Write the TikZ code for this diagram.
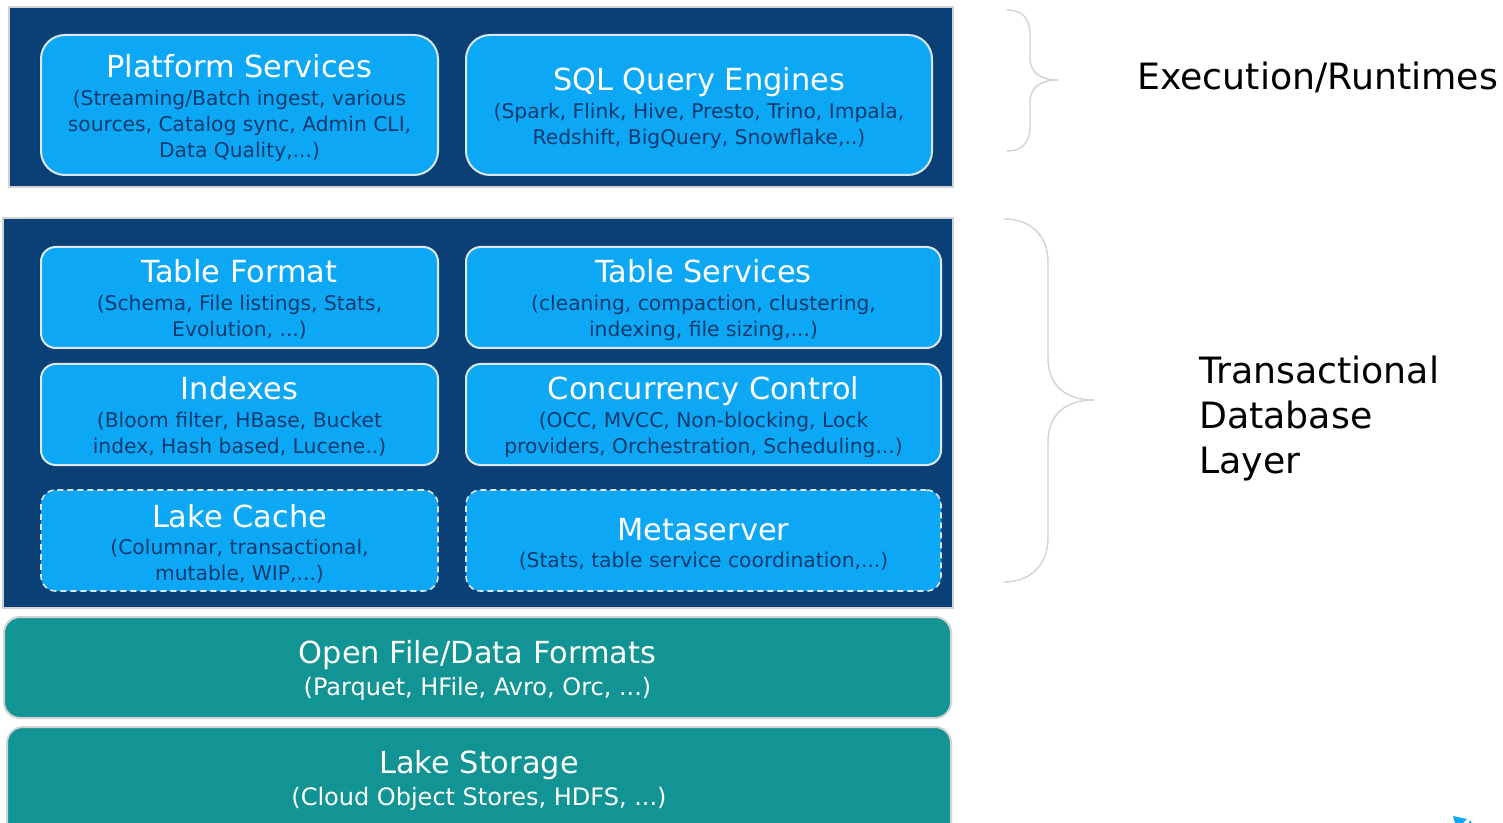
\documentclass[tikz,border=0pt]{standalone}
\usepackage{fontspec}
\setmainfont{DejaVu Sans}
\usetikzlibrary{fit}

\definecolor{navy}{HTML}{0B4077}
\definecolor{skyblue}{HTML}{0DA8F5}
\definecolor{tealbox}{HTML}{139494}
\definecolor{edgegray}{HTML}{D2D2D2}
\definecolor{compedge}{HTML}{DCE6EE}
\definecolor{subtxt}{HTML}{0B3A6E}
\definecolor{bracegray}{HTML}{D4D4D4}

\tikzset{
  panel/.style={draw=edgegray, line width=1.5pt, fill=navy, inner sep=0pt},
  comp/.style={draw=compedge, line width=1.5pt, fill=skyblue, rounded corners=#1, inner sep=0pt},
  compdash/.style={draw=compedge, line width=1.2pt, dash pattern=on 4.5pt off 3pt,
    fill=skyblue, rounded corners=11pt, inner sep=0pt},
  storage/.style={draw=edgegray, line width=1.5pt, fill=tealbox, rounded corners=12pt, inner sep=0pt},
  ttl/.style={anchor=base, text=white, inner sep=0pt, font=\fontsize{22.8}{27}\selectfont},
  subln/.style={anchor=base, text=subtxt, inner sep=0pt, font=\fontsize{15.2}{18}\selectfont},
  stsub/.style={anchor=base, text=white, inner sep=0pt, font=\fontsize{18}{21}\selectfont},
  side/.style={anchor=base west, text=black, inner sep=0pt, font=\fontsize{27.2}{33}\selectfont},
  brace/.style={draw=bracegray, line width=1.1pt, line cap=round}
}

\begin{document}
\begin{tikzpicture}[x=0.75pt, y=-0.75pt]
  \useasboundingbox (0,0) rectangle (1503,823);
  \clip (0,0) rectangle (1503,823);

  % execution / runtime layer
  \node[panel, fit={(9,7) (953,187)}] (exec) {};
  \node[comp=18pt, fit={(41,35) (438,175)}] (ps) {};
  \node[comp=18pt, fit={(466,35) (932,175)}] (sql) {};

  \node[ttl] (ps-t) at (239.5,78) {Platform Services};
  \node[subln] (ps-1) at (239.5,106) {(Streaming/Batch ingest, various};
  \node[subln] (ps-2) at (239.5,132) {sources, Catalog sync, Admin CLI,};
  \node[subln] (ps-3) at (239.5,158) {Data Quality,...)};

  \node[ttl] (sql-t) at (699,91) {SQL Query Engines};
  \node[subln] (sql-1) at (699,119) {(Spark, Flink, Hive, Presto, Trino, Impala,};
  \node[subln] (sql-2) at (699,145) {Redshift, BigQuery, Snowflake,..)};

  % transactional database layer
  \node[panel, fit={(3,218) (953,608)}] (txn) {};
  \node[comp=11pt, fit={(41,247) (438,348)}] (tf) {};
  \node[comp=11pt, fit={(466,247) (941,348)}] (ts) {};
  \node[comp=11pt, fit={(41,364) (438,465)}] (ix) {};
  \node[comp=11pt, fit={(466,364) (941,465)}] (cc) {};
  \node[compdash, fit={(41,490) (438,591)}] (lc) {};
  \node[compdash, fit={(466,490) (941,591)}] (ms) {};

  \node[ttl] (tf-t) at (239.5,283) {Table Format};
  \node[subln] (tf-1) at (239.5,311) {(Schema, File listings, Stats,};
  \node[subln] (tf-2) at (239.5,337) {Evolution, ...)};

  \node[ttl] (ts-t) at (703.5,283) {Table Services};
  \node[subln] (ts-1) at (703.5,311) {(cleaning, compaction, clustering,};
  \node[subln] (ts-2) at (703.5,337) {indexing, file sizing,...)};

  \node[ttl] (ix-t) at (239.5,400) {Indexes};
  \node[subln] (ix-1) at (239.5,428) {(Bloom filter, HBase, Bucket};
  \node[subln] (ix-2) at (239.5,454) {index, Hash based, Lucene..)};

  \node[ttl] (cc-t) at (703.5,400) {Concurrency Control};
  \node[subln] (cc-1) at (703.5,428) {(OCC, MVCC, Non-blocking, Lock};
  \node[subln] (cc-2) at (703.5,454) {providers, Orchestration, Scheduling...)};

  \node[ttl] (lc-t) at (239.5,527) {Lake Cache};
  \node[subln] (lc-1) at (239.5,554) {(Columnar, transactional,};
  \node[subln] (lc-2) at (239.5,580) {mutable, WIP,...)};

  \node[ttl] (ms-t) at (703.5,540) {Metaserver};
  \node[subln] (ms-1) at (703.5,567) {(Stats, table service coordination,...)};

  % file formats and storage
  \node[storage, fit={(4,617) (951,718)}] (ff) {};
  \node[storage, fit={(7,727) (951,845)}] (ls) {};

  \node[ttl] (ff-t) at (477.5,663) {Open File/Data Formats};
  \node[stsub] (ff-1) at (477.5,695) {(Parquet, HFile, Avro, Orc, ...)};

  \node[ttl] (ls-t) at (479,773) {Lake Storage};
  \node[stsub] (ls-1) at (479,805) {(Cloud Object Stores, HDFS, ...)};

  % braces
  \draw[brace] (1007,10) .. controls (1022,10) and (1030,18) .. (1030,35)
    -- (1030,58) .. controls (1030,72) and (1040,80) .. (1058,80)
    .. controls (1040,80) and (1030,88) .. (1030,102)
    -- (1030,126) .. controls (1030,143) and (1022,151) .. (1007,151);

  \draw[brace] (1004,219) .. controls (1030,219) and (1048,235) .. (1048,262)
    -- (1048,358) .. controls (1048,385) and (1065,400) .. (1094,400)
    .. controls (1065,400) and (1048,415) .. (1048,442)
    -- (1048,538) .. controls (1048,565) and (1030,582) .. (1004,582);

  % side labels
  \node[side] (rt) at (1137,90) {Execution/Runtimes};
  \node[side] (db-1) at (1199,384) {Transactional};
  \node[side] (db-2) at (1199,429) {Database};
  \node[side] (db-3) at (1199,474) {Layer};

  % corner mark
  \fill[skyblue] (1453,816) -- (1467,819) -- (1463,823) -- (1455,823) -- cycle;
  \fill[skyblue] (1470,822) circle (1.5);
\end{tikzpicture}
\end{document}
